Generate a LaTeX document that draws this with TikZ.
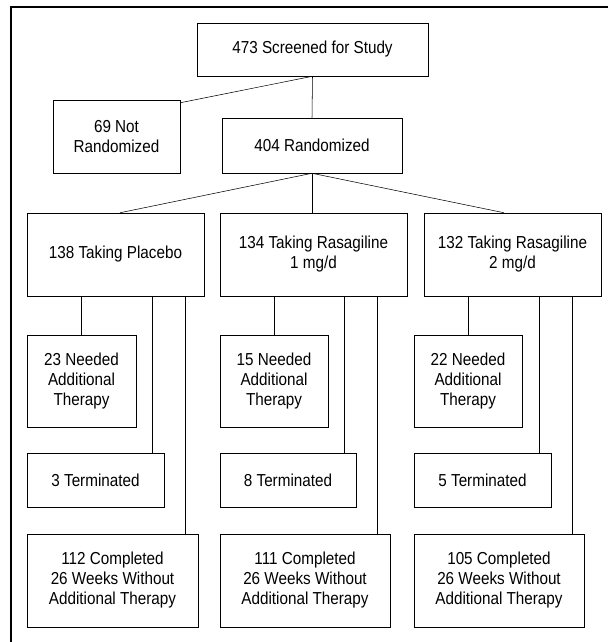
\documentclass[tikz,border=0pt]{standalone}
\usepackage{fontspec}
\setmainfont{Liberation Sans}[FakeStretch=0.88]
\usepackage{tikz}
\usetikzlibrary{positioning}
\tikzset{
box/.style = { rectangle, draw = black, fill = white, inner sep = 0pt, align = center, font = \fontsize{13pt}{15pt}\selectfont },
box size/.style args = {#1, #2}{ minimum width = #1*0.75pt, minimum height = #2*0.75pt },
}

\begin{document}
\begin{tikzpicture}[x=0.75pt, y=-0.75pt]
    \useasboundingbox (0,0) rectangle (608,642);
    \draw[line width=1.2pt] (608,7) -- (11,7) -- (11,642);
    \begin{scope}[every node/.style={box}]
      \node[box size={231, 53}] (scr) at (312.5,49.5) {473 Screened for Study};
      \node[box size={127, 73}] (notr) at (116.5,136.5) {69 Not\\Randomized};
      \node[box size={180, 55}] (rand) at (312,145.5) {404 Randomized};
      % treatment arms
      \node[box size={177, 83}] (plc) at (115.5,254.5) {138 Taking Placebo};
      \node[box size={187, 83}] (ras1) at (313.5,254.5) {134 Taking Rasagiline\\1 mg/d};
      \node[box size={177, 83}] (ras2) at (512.5,254.5) {132 Taking Rasagiline\\2 mg/d};
      % needed additional therapy
      \node[box size={109, 92}] (plcadd) at (81.5,381) {23 Needed\\Additional\\Therapy};
      \node[box size={108, 92}] (ras1add) at (274,381) {15 Needed\\Additional\\Therapy};
      \node[box size={108, 92}] (ras2add) at (468,381) {22 Needed\\Additional\\Therapy};
      % terminated
      \node[box size={137, 54}] (plcterm) at (95.5,480) {3 Terminated};
      \node[box size={136, 54}] (ras1term) at (288,480) {8 Terminated};
      \node[box size={137, 54}] (ras2term) at (482.5,480) {5 Terminated};
      % completed
      \node[box size={171, 93}] (plccomp) at (112.5,580.5) {112 Completed\\26 Weeks Without\\Additional Therapy};
      \node[box size={170, 93}] (ras1comp) at (305,580.5) {111 Completed\\26 Weeks Without\\Additional Therapy};
      \node[box size={170, 93}] (ras2comp) at (499,580.5) {105 Completed\\26 Weeks Without\\Additional Therapy};
    \end{scope}
    \coordinate (notr in) at ([yshift=-2.25pt]notr.north east);
    \coordinate (plc in) at ([xshift=3.4pt]plc.north);
    \coordinate (ras2 in) at ([xshift=-6.4pt]ras2.north);
    \coordinate (plcterm in) at ([xshift=-9pt]plcterm.north east);
    \coordinate (ras1term in) at ([xshift=-9pt]ras1term.north east);
    \coordinate (ras2term in) at ([xshift=-9pt]ras2term.north east);
    \coordinate (plccomp in) at ([xshift=-10pt]plccomp.north east);
    \coordinate (ras1comp in) at ([xshift=-9.75pt]ras1comp.north east);
    \coordinate (ras2comp in) at ([xshift=-9pt]ras2comp.north east);
    \begin{scope}[every edge/.style={draw=black}]
      \path [-] (scr.south) edge (notr in);
      \path [-] (scr.south) edge (rand.north);
      \path [-] (rand.south) edge (plc in);
      \path [-] (rand.south) edge (rand.south |- ras1.north);
      \path [-] (rand.south) edge (ras2 in);
    \end{scope}
    \begin{scope}[every edge/.style={draw=black}]
      \path [-] (plcadd.north |- plc.south) edge (plcadd.north);
      \path [-] (plcterm in |- plc.south) edge (plcterm in);
      \path [-] (plccomp in |- plc.south) edge (plccomp in);
      \path [-] (ras1add.north |- ras1.south) edge (ras1add.north);
      \path [-] (ras1term in |- ras1.south) edge (ras1term in);
      \path [-] (ras1comp in |- ras1.south) edge (ras1comp in);
      \path [-] (ras2add.north |- ras2.south) edge (ras2add.north);
      \path [-] (ras2term in |- ras2.south) edge (ras2term in);
      \path [-] (ras2comp in |- ras2.south) edge (ras2comp in);
    \end{scope}
\end{tikzpicture}
\end{document}
